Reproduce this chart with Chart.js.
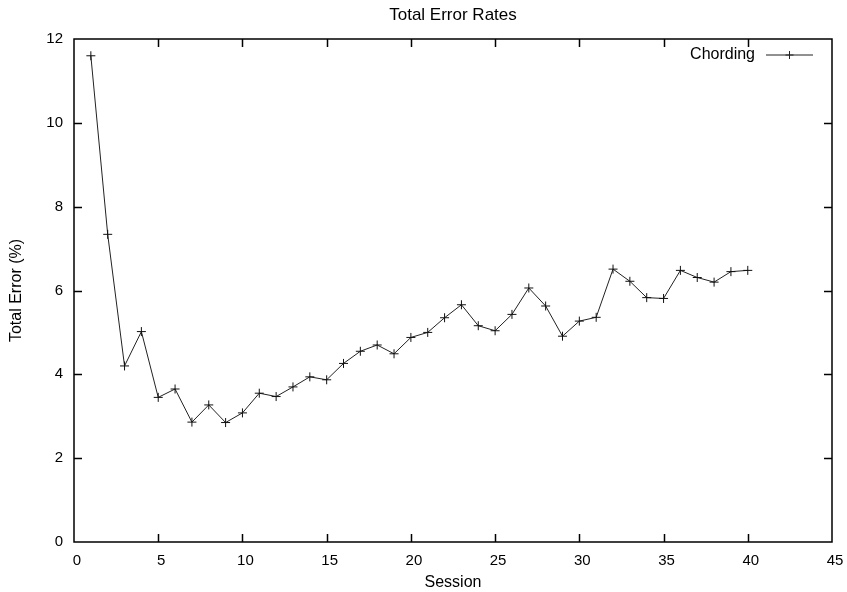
<!DOCTYPE html>
<html>
<head>
<meta charset="utf-8">
<script src="https://cdn.jsdelivr.net/npm/chart.js@4/dist/chart.umd.min.js"></script>
<style>
  html, body { margin: 0; padding: 0; background: #fff; }
  canvas { display: block; }
</style>
</head>
<body>
<canvas id="chart" width="847" height="592"></canvas>
<script>
// Sessions 1..40 and the total error rate (%) measured in each
const sessions = [1, 2, 3, 4, 5, 6, 7, 8, 9, 10,
                  11, 12, 13, 14, 15, 16, 17, 18, 19, 20,
                  21, 22, 23, 24, 25, 26, 27, 28, 29, 30,
                  31, 32, 33, 34, 35, 36, 37, 38, 39, 40];
const totalError = [11.6, 7.34, 4.2, 5.02, 3.45, 3.65, 2.86, 3.27, 2.85, 3.08,
                    3.55, 3.47, 3.7, 3.94, 3.87, 4.26, 4.55, 4.7, 4.49, 4.88,
                    5.0, 5.35, 5.66, 5.16, 5.04, 5.43, 6.06, 5.63, 4.91, 5.27,
                    5.36, 6.51, 6.22, 5.83, 5.81, 6.48, 6.31, 6.2, 6.45, 6.48];
const xTickValues = [0, 5, 10, 15, 20, 25, 30, 35, 40, 45];
const yTickValues = [0, 2, 4, 6, 8, 10, 12];
const seriesName = 'Chording';

const FONT = 'Liberation Sans, Arial, Helvetica, sans-serif';
const TICK_FONT_SIZE = 15;
const LABEL_FONT_SIZE = 16;
const TITLE_FONT_SIZE = 17;
const TICK_LEN = 8;

const points = sessions.map((s, i) => ({ x: s, y: totalError[i] }));

// Frame with inward tick marks on all four sides, plus a gnuplot-style key
const framePlugin = {
  id: 'frame',
  afterDatasetsDraw(chart) {
    const { ctx, chartArea: a, scales: { x, y } } = chart;
    ctx.save();
    ctx.strokeStyle = '#000';
    ctx.lineWidth = 1.5;
    ctx.beginPath();
    ctx.rect(a.left, a.top, a.right - a.left, a.bottom - a.top);
    ctx.stroke();

    ctx.beginPath();
    xTickValues.forEach(v => {
      const px = Math.round(x.getPixelForValue(v)) + 0.5;
      if (v !== x.min && v !== x.max) {
        ctx.moveTo(px, a.bottom); ctx.lineTo(px, a.bottom - TICK_LEN);
        ctx.moveTo(px, a.top); ctx.lineTo(px, a.top + TICK_LEN);
      }
    });
    yTickValues.forEach(v => {
      const py = Math.round(y.getPixelForValue(v)) + 0.5;
      if (v !== y.min && v !== y.max) {
        ctx.moveTo(a.left, py); ctx.lineTo(a.left + TICK_LEN, py);
        ctx.moveTo(a.right, py); ctx.lineTo(a.right - TICK_LEN, py);
      }
    });
    ctx.stroke();

    // key: label, then a line sample with the point marker
    const ds = chart.data.datasets[0];
    const keyY = a.top + 16;
    const lineEnd = a.right - 19;
    const lineStart = lineEnd - 47;
    ctx.font = `${LABEL_FONT_SIZE}px ${FONT}`;
    ctx.fillStyle = '#000';
    ctx.textAlign = 'right';
    ctx.textBaseline = 'middle';
    ctx.fillText(ds.label, lineStart - 11, keyY);
    ctx.strokeStyle = ds.borderColor;
    ctx.lineWidth = ds.borderWidth;
    ctx.beginPath();
    ctx.moveTo(lineStart, keyY); ctx.lineTo(lineEnd, keyY);
    const cx = (lineStart + lineEnd) / 2;
    ctx.moveTo(cx - 4, keyY); ctx.lineTo(cx + 4, keyY);
    ctx.moveTo(cx, keyY - 4); ctx.lineTo(cx, keyY + 4);
    ctx.stroke();
    ctx.restore();
  }
};

new Chart(document.getElementById('chart'), {
  type: 'line',
  data: {
    datasets: [{
      label: seriesName,
      data: points,
      borderColor: '#222',
      borderWidth: 1,
      pointStyle: 'cross',
      pointRadius: 4.5,
      pointBorderWidth: 1,
      pointBorderColor: '#111',
      pointBackgroundColor: '#111',
      fill: false,
      tension: 0
    }]
  },
  options: {
    responsive: false,
    animation: false,
    devicePixelRatio: 1,
    layout: { padding: { left: 0, right: 15, top: 0, bottom: 0 } },
    plugins: {
      legend: { display: false },
      tooltip: { enabled: false },
      title: {
        display: true,
        text: 'Total Error Rates',
        color: '#000',
        fullSize: false,
        font: { family: FONT, size: TITLE_FONT_SIZE, weight: 'normal' },
        padding: { top: 5, bottom: 13.6 }
      }
    },
    scales: {
      x: {
        type: 'linear',
        min: 0,
        max: 45,
        afterBuildTicks: s => { s.ticks = xTickValues.map(v => ({ value: v })); },
        afterFit: s => { s.height = 50; s.paddingLeft = 0; s.paddingRight = 0; },
        grid: { display: false, drawTicks: false },
        border: { display: false },
        ticks: {
          color: '#000',
          padding: 10,
          labelOffset: 3,
          maxRotation: 0,
          font: { family: FONT, size: TICK_FONT_SIZE }
        },
        title: {
          display: true,
          text: 'Session',
          color: '#000',
          font: { family: FONT, size: LABEL_FONT_SIZE },
          padding: { top: 0, bottom: 0 }
        }
      },
      y: {
        type: 'linear',
        min: 0,
        max: 12,
        afterBuildTicks: s => { s.ticks = yTickValues.map(v => ({ value: v })); },
        afterFit: s => { s.width = 74; s.paddingTop = 0; s.paddingBottom = 0; },
        grid: { display: false, drawTicks: false },
        border: { display: false },
        ticks: {
          color: '#000',
          padding: 11,
          font: { family: FONT, size: TICK_FONT_SIZE }
        },
        title: {
          display: true,
          text: 'Total Error (%)',
          color: '#000',
          font: { family: FONT, size: LABEL_FONT_SIZE },
          padding: { top: 6.5, bottom: 0 }
        }
      }
    }
  },
  plugins: [framePlugin]
});
</script>
</body>
</html>
